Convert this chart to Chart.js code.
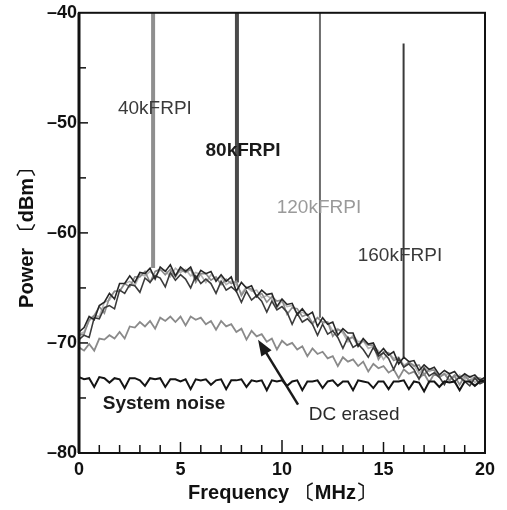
<!DOCTYPE html>
<html>
<head>
<meta charset="utf-8">
<script src="https://cdn.jsdelivr.net/npm/chart.js@4"></script>
<style>
  body { margin: 0; background: #fff; }
  #wrap { width: 507px; height: 510px; position: relative; }
</style>
</head>
<body>
<div id="wrap"><canvas id="chart"></canvas></div>
<script>
// frequency grid of the recorded spectra (MHz)
const freq = [
  0, 0.25, 0.5, 0.75, 1, 1.25, 1.5, 1.75, 2, 2.25, 2.5, 2.75, 3, 3.25, 3.5, 3.75,
  4, 4.25, 4.5, 4.75, 5, 5.25, 5.5, 5.75, 6, 6.25, 6.5, 6.75, 7, 7.25, 7.5, 7.75,
  8, 8.25, 8.5, 8.75, 9, 9.25, 9.5, 9.75, 10, 10.25, 10.5, 10.75, 11, 11.25, 11.5, 11.75,
  12, 12.25, 12.5, 12.75, 13, 13.25, 13.5, 13.75, 14, 14.25, 14.5, 14.75, 15, 15.25, 15.5, 15.75,
  16, 16.25, 16.5, 16.75, 17, 17.25, 17.5, 17.75, 18, 18.25, 18.5, 18.75, 19, 19.25, 19.5, 19.75, 20
];

// power (dBm) for each recording
const p40k = [
  -69.3, -69.2, -67.9, -67.5, -66.7, -67.3, -65.9, -65.3, -65.3, -64.6, -64.9, -64.0, -64.0, -63.5, -64.5, -63.5,
  -63.3, -63.8, -63.3, -64.0, -63.3, -63.6, -63.3, -64.5, -63.7, -63.7, -64.3, -64.0, -64.7, -64.2, -64.6, -64.4,
  -65.7, -65.0, -65.1, -65.7, -65.5, -66.3, -65.8, -66.2, -66.1, -67.4, -66.8, -66.9, -67.6, -67.4, -68.2, -67.7,
  -68.1, -68.1, -69.4, -68.8, -68.9, -69.6, -69.5, -70.3, -69.8, -70.2, -70.2, -71.5, -70.8, -70.9, -71.6, -71.4,
  -72.2, -71.7, -72.1, -72.0, -72.9, -72.4, -72.5, -73.1, -72.8, -73.4, -72.9, -73.1, -72.9, -73.6, -73.2, -73.2, -73.4
];
const p80k = [
  -69.0, -68.6, -67.6, -67.9, -66.6, -66.3, -65.5, -66.0, -64.6, -64.6, -63.9, -64.5, -63.6, -63.7, -63.2, -64.2,
  -63.1, -63.5, -62.9, -63.9, -63.1, -63.5, -63.1, -64.2, -63.4, -63.7, -63.5, -64.4, -63.8, -64.4, -64.0, -65.3,
  -64.5, -65.0, -64.8, -65.8, -65.2, -65.6, -65.5, -66.7, -66.0, -66.5, -66.4, -67.4, -66.9, -67.5, -67.2, -68.5,
  -67.7, -68.3, -68.1, -69.3, -68.7, -69.1, -69.1, -70.3, -69.6, -70.1, -70.0, -71.0, -70.5, -71.1, -70.8, -71.9,
  -71.3, -71.7, -71.6, -72.5, -72.0, -72.4, -72.2, -72.9, -72.5, -72.8, -72.6, -73.2, -72.8, -73.1, -72.9, -73.4, -73.1
];
const p120k = [
  -69.2, -69.0, -68.0, -67.5, -67.6, -66.3, -66.1, -65.3, -65.3, -64.6, -64.4, -64.8, -63.8, -63.9, -63.5, -63.9,
  -63.4, -63.4, -64.0, -63.2, -63.6, -63.3, -63.9, -63.6, -63.8, -64.5, -63.8, -64.2, -64.0, -64.7, -64.4, -64.7,
  -65.5, -64.9, -65.3, -65.2, -65.9, -65.7, -66.0, -66.8, -66.2, -66.7, -66.6, -67.4, -67.2, -67.5, -68.3, -67.7,
  -68.2, -68.1, -68.9, -68.7, -69.1, -69.9, -69.3, -69.9, -69.8, -70.5, -70.3, -70.7, -71.5, -70.9, -71.4, -71.3,
  -72.0, -71.8, -72.0, -72.8, -72.2, -72.6, -72.4, -73.1, -72.8, -72.9, -73.6, -72.9, -73.3, -73.0, -73.6, -73.3, -73.4
];
const p160k = [
  -69.7, -69.3, -69.5, -67.7, -67.8, -66.8, -66.6, -66.9, -65.2, -65.5, -64.7, -64.8, -65.4, -64.1, -64.5, -63.9,
  -64.1, -64.9, -63.6, -64.3, -63.8, -64.2, -65.0, -63.9, -64.6, -64.2, -64.6, -65.5, -64.4, -65.2, -64.9, -65.3,
  -66.3, -65.3, -66.1, -65.7, -66.2, -67.2, -66.2, -67.0, -66.7, -67.2, -68.3, -67.3, -68.1, -67.8, -68.3, -69.3,
  -68.3, -69.2, -68.9, -69.5, -70.5, -69.5, -70.4, -70.1, -70.6, -71.3, -70.4, -71.2, -70.9, -71.4, -72.4, -71.4,
  -72.2, -71.9, -72.4, -73.3, -72.3, -73.0, -72.7, -73.1, -73.8, -72.9, -73.5, -73.1, -73.5, -73.9, -73.2, -73.7, -73.5
];
const pDcErased = [
  -70.4, -70.7, -70.1, -70.7, -69.6, -69.7, -69.3, -69.6, -69.0, -69.6, -68.5, -68.6, -68.1, -68.5, -68.0, -68.7,
  -67.7, -68.0, -67.6, -68.1, -67.6, -68.4, -67.6, -67.9, -67.7, -68.3, -68.0, -68.8, -68.0, -68.5, -68.3, -69.0,
  -68.7, -69.7, -68.9, -69.4, -69.2, -69.9, -69.6, -70.6, -69.8, -70.2, -70.0, -70.6, -70.3, -71.2, -70.5, -71.0,
  -70.8, -71.4, -71.2, -72.1, -71.3, -71.7, -71.5, -72.1, -71.7, -72.6, -71.9, -72.3, -72.1, -72.7, -72.4, -73.2,
  -72.4, -72.8, -72.6, -73.2, -72.8, -73.6, -72.8, -73.1, -72.8, -73.4, -73.0, -73.8, -73.0, -73.4, -73.1, -73.6, -73.3
];
const pSystemNoise = [
  -73.1, -73.3, -73.2, -74.0, -73.1, -73.2, -73.6, -73.2, -73.3, -74.1, -73.2, -73.2, -73.4, -73.9, -73.2, -73.3,
  -73.2, -74.0, -73.3, -73.3, -73.5, -73.3, -74.2, -73.3, -73.4, -73.3, -73.8, -73.4, -73.3, -74.2, -73.4, -73.4,
  -73.3, -74.0, -73.4, -73.5, -73.4, -74.3, -73.4, -73.5, -73.4, -73.9, -73.5, -73.4, -74.3, -73.5, -73.5, -73.4,
  -74.1, -73.5, -73.4, -73.9, -73.5, -73.5, -74.3, -73.4, -73.5, -73.6, -74.1, -73.5, -73.5, -74.2, -73.5, -73.5,
  -73.4, -74.2, -73.5, -73.6, -74.4, -73.5, -73.5, -74.0, -73.5, -73.6, -73.5, -74.3, -73.5, -73.5, -73.9, -73.5, -73.4
];

// FRPI carrier lines: frequency, top and foot of each spike
const spikeNames = ["40kFRPI", "80kFRPI", "120kFRPI", "160kFRPI"];
const spikeFreq = [3.65, 7.78, 11.87, 15.99];
const spikeTop = [-40, -40, -40, -42.8];
const spikeBase = [-63.2, -64.5, -67.7, -71.3];

const FONT = '"Liberation Sans", Arial, Helvetica, sans-serif';

const toPoints = (vals) => freq.map((f, i) => ({ x: f, y: vals[i] }));

const curve = (label, vals, color, width) => ({
  label,
  data: toPoints(vals),
  borderColor: color,
  borderWidth: width,
  pointRadius: 0,
  tension: 0,
  fill: false,
});

const spikeColors = ["#8f8f8f", "#4a4a4a", "#6e6e6e", "#3a3a3a"];
const spikeWidths = [4, 4, 2, 2];

const datasets = [
  curve("System noise", pSystemNoise, "#141414", 2),
  curve("80kFRPI", p80k, "#262626", 1.6),
  curve("160kFRPI", p160k, "#3c3c3c", 1.6),
  curve("40kFRPI", p40k, "#8c8c8c", 1.6),
  curve("120kFRPI", p120k, "#b4b4b4", 1.6),
  curve("DC erased", pDcErased, "#8a8a8a", 1.8),
];
spikeNames.forEach((name, i) => {
  datasets.push({
    label: name + " line",
    data: [
      { x: spikeFreq[i], y: spikeBase[i] },
      { x: spikeFreq[i], y: spikeTop[i] },
    ],
    borderColor: spikeColors[i],
    borderWidth: spikeWidths[i],
    pointRadius: 0,
    fill: false,
  });
});

// text labels placed in data units
const labels = [
  { text: "40kFRPI", x: 3.74, y: -48.7, color: "#3a3a3a", weight: "normal" },
  { text: "80kFRPI", x: 8.08, y: -52.5, color: "#1a1a1a", weight: "bold" },
  { text: "120kFRPI", x: 11.82, y: -57.7, color: "#9a9a9a", weight: "normal" },
  { text: "160kFRPI", x: 15.81, y: -62.1, color: "#3a3a3a", weight: "normal" },
  { text: "System noise", x: 4.19, y: -75.5, color: "#1a1a1a", weight: "bold" },
  { text: "DC erased", x: 13.55, y: -76.5, color: "#2a2a2a", weight: "normal" },
];

const frame = {
  id: "frame",
  afterDatasetsDraw(chart) {
    const { ctx, chartArea: a, scales: { x, y } } = chart;
    ctx.save();
    ctx.strokeStyle = "#111";
    ctx.lineWidth = 2;
    ctx.strokeRect(a.left, a.top, a.right - a.left, a.bottom - a.top);
    ctx.lineWidth = 3;
    ctx.beginPath();
    ctx.moveTo(a.left, a.top);
    ctx.lineTo(a.left, a.bottom);
    ctx.stroke();

    // inward tick marks
    ctx.lineWidth = 1.5;
    for (let v = -75; v < -40; v += 5) {
      const py = y.getPixelForValue(v);
      const len = v % 10 === 0 ? 9 : 7;
      ctx.beginPath();
      ctx.moveTo(a.left, py);
      ctx.lineTo(a.left + len, py);
      ctx.stroke();
    }
    for (let f = 1; f < 20; f++) {
      const px = x.getPixelForValue(f);
      const len = f === 10 ? 13 : f % 5 === 0 ? 11 : 8;
      ctx.beginPath();
      ctx.moveTo(px, a.bottom);
      ctx.lineTo(px, a.bottom - len);
      ctx.stroke();
    }

    // labels
    ctx.textAlign = "center";
    ctx.textBaseline = "middle";
    labels.forEach((l) => {
      ctx.font = `${l.weight} 19px ${FONT}`;
      ctx.fillStyle = l.color;
      ctx.fillText(l.text, x.getPixelForValue(l.x), y.getPixelForValue(l.y));
    });

    // arrow to DC erased curve
    const x0 = x.getPixelForValue(10.79), y0 = y.getPixelForValue(-75.6);
    const x1 = x.getPixelForValue(8.82), y1 = y.getPixelForValue(-69.7);
    const ang = Math.atan2(y1 - y0, x1 - x0);
    ctx.strokeStyle = "#1a1a1a";
    ctx.fillStyle = "#1a1a1a";
    ctx.lineWidth = 2.5;
    ctx.beginPath();
    ctx.moveTo(x0, y0);
    ctx.lineTo(x1 - 10 * Math.cos(ang), y1 - 10 * Math.sin(ang));
    ctx.stroke();
    ctx.beginPath();
    ctx.moveTo(x1, y1);
    ctx.lineTo(x1 - 16 * Math.cos(ang) + 6 * Math.sin(ang), y1 - 16 * Math.sin(ang) - 6 * Math.cos(ang));
    ctx.lineTo(x1 - 16 * Math.cos(ang) - 6 * Math.sin(ang), y1 - 16 * Math.sin(ang) + 6 * Math.cos(ang));
    ctx.closePath();
    ctx.fill();
    ctx.restore();
  },
};

const dash = (v) => (v < 0 ? "\u2013" + Math.abs(v) : String(v));

new Chart(document.getElementById("chart"), {
  type: "line",
  data: { datasets },
  options: {
    responsive: true,
    maintainAspectRatio: false,
    animation: false,
    layout: { padding: { top: 12, right: 22, left: 0, bottom: 0 } },
    plugins: { legend: { display: false }, tooltip: { enabled: false } },
    scales: {
      x: {
        type: "linear",
        min: 0,
        max: 20,
        afterFit: (s) => { s.height = 57; },
        ticks: {
          stepSize: 5,
          color: "#111",
          padding: 6,
          maxRotation: 0,
          font: { family: FONT, size: 18, weight: "bold" },
        },
        grid: { display: false, drawTicks: false },
        border: { display: false },
        title: {
          display: true,
          text: "Frequency \u3014MHz\u3015",
          color: "#111",
          padding: { bottom: 5, top: 0 },
          font: { family: FONT, size: 20, weight: "bold" },
        },
      },
      y: {
        min: -80,
        max: -40,
        afterFit: (s) => { s.width = 79; },
        ticks: {
          stepSize: 10,
          color: "#111",
          padding: 2,
          callback: dash,
          font: { family: FONT, size: 18, weight: "bold" },
        },
        grid: { display: false, drawTicks: false },
        border: { display: false },
        title: {
          display: true,
          text: "Power \u3014dBm\u3015",
          color: "#111",
          padding: { top: 15, bottom: 0 },
          font: { family: FONT, size: 20, weight: "bold" },
        },
      },
    },
  },
  plugins: [frame],
});
</script>
</body>
</html>
